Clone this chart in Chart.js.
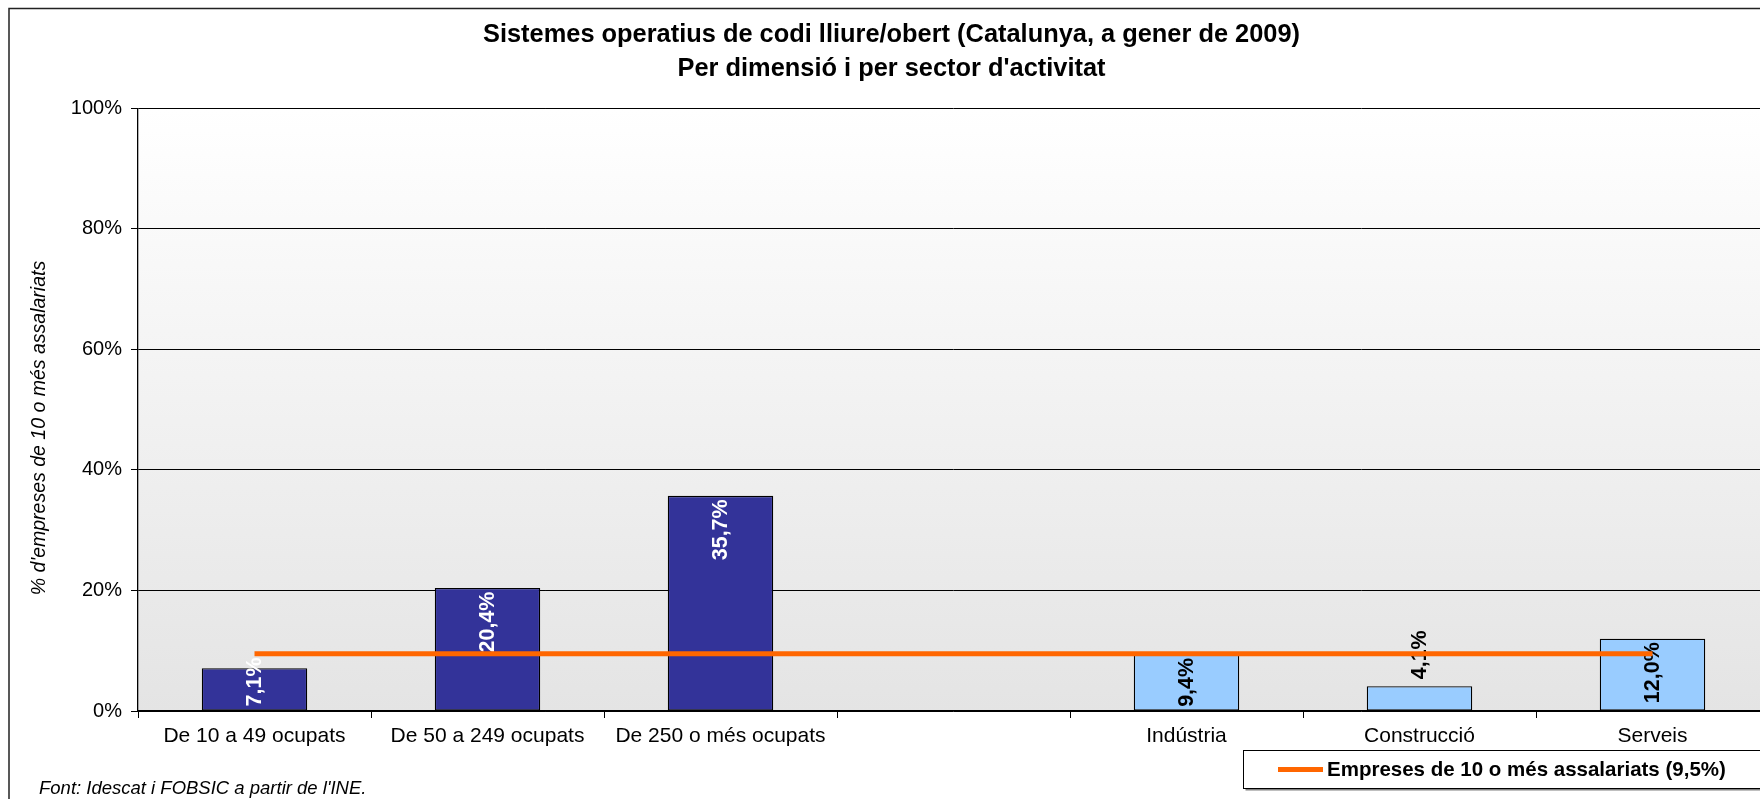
<!DOCTYPE html>
<html>
<head>
<meta charset="utf-8">
<script src="https://cdn.jsdelivr.net/npm/chart.js@4.4.1/dist/chart.umd.min.js"></script>
<style>
html,body{margin:0;padding:0;background:#fff;overflow:hidden;}
#wrap{position:absolute;left:0;top:0;width:1769px;height:799px;}
</style>
</head>
<body>
<div id="wrap"><canvas id="c" width="1769" height="799"></canvas></div>
<script>
const titleLines = ["Sistemes operatius de codi lliure/obert (Catalunya, a gener de 2009)", "Per dimensió i per sector d'activitat"];
const categories = ["De 10 a 49 ocupats", "De 50 a 249 ocupats", "De 250 o més ocupats", "", "Indústria", "Construcció", "Serveis"];
const sizeValues = [7.1, 20.4, 35.7, null, null, null, null];
const sectorValues = [null, null, null, null, 9.4, 4.1, 12.0];
const averageValues = [9.5, 9.5, 9.5, 9.5, 9.5, 9.5, 9.5];
const averageLabel = "Empreses de 10 o més assalariats (9,5%)";
const yTickValues = [0, 20, 40, 60, 80, 100];
const yTitle = "% d'empreses de 10 o més assalariats";
const sourceNote = "Font: Idescat i FOBSIC a partir de l'INE.";

const FAM = "'Liberation Sans', Arial, Helvetica, sans-serif";
const fmt = v => v.toFixed(1).replace('.', ',') + '%';

const decor = {
  id: 'decor',
  beforeDraw(chart) {
    const {ctx, chartArea: a} = chart;
    ctx.save();
    ctx.fillStyle = '#fff';
    ctx.fillRect(0, 0, chart.width, chart.height);
    ctx.strokeStyle = '#222';
    ctx.lineWidth = 1.5;
    ctx.strokeRect(9, 8.5, 3000, 3000);
    const g = ctx.createLinearGradient(0, a.top, 0, a.bottom);
    g.addColorStop(0, '#ffffff');
    g.addColorStop(1, '#e4e4e4');
    ctx.fillStyle = g;
    ctx.fillRect(a.left, a.top, a.right - a.left, a.bottom - a.top);
    ctx.restore();
  },
  afterDatasetDraw(chart, args) {
    const ds = chart.data.datasets[args.index];
    if (!ds.labelColor) return;
    const ctx = chart.ctx;
    ctx.save();
    ctx.font = 'bold 21.5px ' + FAM;
    ctx.fillStyle = ds.labelColor;
    ctx.textBaseline = 'middle';
    args.meta.data.forEach((bar, i) => {
      const v = ds.data[i];
      if (v === null || v === undefined) return;
      const t = fmt(v);
      const w = ctx.measureText(t).width;
      const h = bar.base - bar.y;
      ctx.save();
      if (w + 4 <= h) {
        ctx.translate(bar.x, bar.y + 3.5);
        ctx.rotate(-Math.PI / 2);
        ctx.textAlign = 'right';
      } else if (ds.labelFallback === 'base') {
        ctx.translate(bar.x, bar.base - 4);
        ctx.rotate(-Math.PI / 2);
        ctx.textAlign = 'left';
      } else {
        ctx.translate(bar.x, bar.y - 7);
        ctx.rotate(-Math.PI / 2);
        ctx.textAlign = 'left';
      }
      ctx.fillText(t, 0, 1);
      ctx.restore();
    });
    ctx.restore();
  },
  afterDraw(chart) {
    const {ctx} = chart;
    ctx.save();
    ctx.font = 'italic 19.5px ' + FAM;
    ctx.fillStyle = '#000';
    ctx.textAlign = 'center';
    ctx.textBaseline = 'middle';
    ctx.translate(40, 428);
    ctx.rotate(-Math.PI / 2);
    ctx.fillText(yTitle, 0, 0);
    ctx.restore();

    ctx.save();
    ctx.font = 'italic 18.5px ' + FAM;
    ctx.fillStyle = '#000';
    ctx.textAlign = 'left';
    ctx.textBaseline = 'middle';
    ctx.fillText(sourceNote, 39, 789);
    const bx = 1243.5, by = 750.5, bw = 600, bh = 38;
    ctx.fillStyle = '#808080';
    ctx.fillRect(bx + 2, by + 2, bw, bh);
    ctx.fillStyle = '#fff';
    ctx.fillRect(bx, by, bw, bh);
    ctx.strokeStyle = '#000';
    ctx.lineWidth = 1;
    ctx.strokeRect(bx, by, bw, bh);
    ctx.strokeStyle = '#FF6600';
    ctx.lineWidth = 5;
    ctx.beginPath();
    ctx.moveTo(1278, 769.5);
    ctx.lineTo(1323, 769.5);
    ctx.stroke();
    ctx.font = 'bold 20.5px ' + FAM;
    ctx.fillStyle = '#000';
    ctx.fillText(averageLabel, 1327, 770);
    ctx.restore();
  }
};

new Chart(document.getElementById('c'), {
  data: {
    labels: categories,
    datasets: [
      {
        type: 'line', label: averageLabel, data: averageValues,
        borderColor: '#FF6600', backgroundColor: '#FF6600', borderWidth: 5,
        pointRadius: 0, fill: false, tension: 0, order: 0, borderCapStyle: 'butt'
      },
      {
        type: 'bar', label: 'Per dimensió', data: sizeValues,
        backgroundColor: '#333399', borderColor: '#000', borderWidth: 1.3,
        borderSkipped: false, order: 1, labelColor: '#fff', labelFallback: 'base',
        categoryPercentage: 1, barPercentage: 0.4526
      },
      {
        type: 'bar', label: 'Per sector', data: sectorValues,
        backgroundColor: '#99CCFF', borderColor: '#000', borderWidth: 1.3,
        borderSkipped: false, order: 1, labelColor: '#000', labelFallback: 'outside',
        categoryPercentage: 1, barPercentage: 0.4526
      }
    ]
  },
  options: {
    responsive: false,
    animation: false,
    devicePixelRatio: 1,
    skipNull: true,
    layout: {padding: {left: 14, right: 0, top: 0, bottom: 0}},
    plugins: {
      legend: {display: false},
      tooltip: {enabled: false},
      title: {
        display: true, text: titleLines, color: '#000',
        font: {family: FAM, size: 25.4, weight: 'bold', lineHeight: 1.34},
        padding: {top: 17.8, bottom: 22.4}
      }
    },
    scales: {
      x: {
        offset: true,
        grid: {display: true, drawOnChartArea: false, drawTicks: true, tickLength: 7, color: '#000', lineWidth: 1, offset: true},
        border: {display: true, color: '#000', width: 1.3},
        ticks: {color: '#000', font: {family: FAM, size: 21}, padding: 6, maxRotation: 0, autoSkip: false},
        afterFit(s) { s.height = 88; }
      },
      y: {
        min: 0, max: 100,
        afterBuildTicks(s) { s.ticks = yTickValues.map(v => ({value: v})); },
        grid: {color: '#000', lineWidth: 1, tickLength: 7, drawTicks: true},
        border: {display: true, color: '#000', width: 1.3},
        ticks: {color: '#000', font: {family: FAM, size: 20}, padding: 9, callback: v => v + '%'},
        afterFit(s) { s.width = 124; }
      }
    }
  },
  plugins: [decor]
});
</script>
</body>
</html>
